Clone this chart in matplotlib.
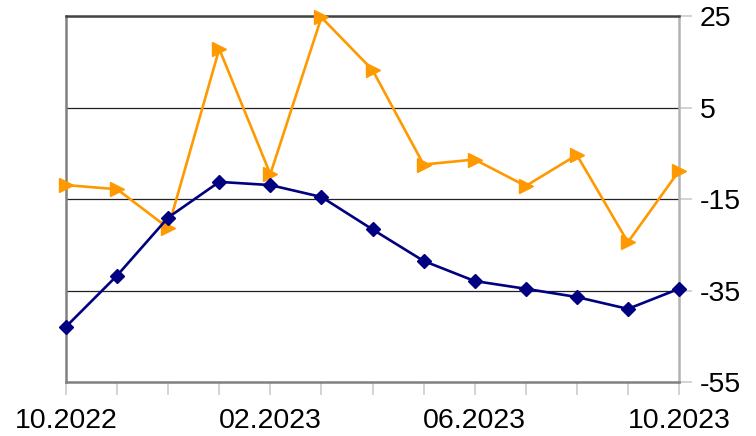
import matplotlib
matplotlib.use('Agg')
import matplotlib.pyplot as plt

plt.rcParams['font.family'] = ['Liberation Sans', 'DejaVu Sans']

# monthly values 10.2022 .. 10.2023
months = ['10.2022', '11.2022', '12.2022', '01.2023', '02.2023', '03.2023', '04.2023',
          '05.2023', '06.2023', '07.2023', '08.2023', '09.2023', '10.2023']
navy_vals = [-42.9, -31.7, -19.0, -11.2, -11.9, -14.5, -21.6,
             -28.5, -32.9, -34.6, -36.4, -39.0, -34.6]
orange_vals = [-11.9, -12.8, -21.3, 17.9, -9.5, 24.8, 13.3,
               -7.4, -6.3, -12.1, -5.3, -24.4, -8.8]
y_ticks = [-55, -35, -15, 5, 25]

fig = plt.figure(figsize=(7.56, 4.36), dpi=100)
ax = fig.add_axes([66/756, 1-382/436, (679-66)/756, (382-16.5)/436])

x = list(range(len(months)))
ax.plot(x, orange_vals, color='#ff9900', lw=1.9, marker='>', ms=10, zorder=3, clip_on=False)
ax.plot(x, navy_vals, color='#000080', lw=1.9, marker='D', ms=7, zorder=4, clip_on=False)

ax.set_xlim(0, 12)
ax.set_ylim(-55, 25)

# gridlines
for v in y_ticks[1:]:
    ax.axhline(v, color='#222222', lw=0.9, zorder=1)

ax.yaxis.tick_right()
ax.set_yticks(y_ticks)
ax.set_yticklabels([str(v) for v in y_ticks])
ax.set_xticks(x, minor=True)
ax.set_xticks([0, 4, 8, 12])
ax.set_xticklabels([months[i] for i in [0, 4, 8, 12]])

ax.tick_params(axis='both', which='both', direction='out', color='#cccccc',
               labelsize=20.5, labelcolor='black')
ax.tick_params(axis='x', which='both', length=9, width=1.2, pad=10)
ax.tick_params(axis='y', length=9, width=1.2, pad=6)

for side in ['left', 'bottom']:
    ax.spines[side].set_color('#808080')
    ax.spines[side].set_linewidth(1.8)
ax.spines['right'].set_color('#b3b3b3')
ax.spines['right'].set_linewidth(1.8)
ax.spines['top'].set_color('#444444')
ax.spines['top'].set_linewidth(1.8)

fig.savefig('out.png', dpi=100)
